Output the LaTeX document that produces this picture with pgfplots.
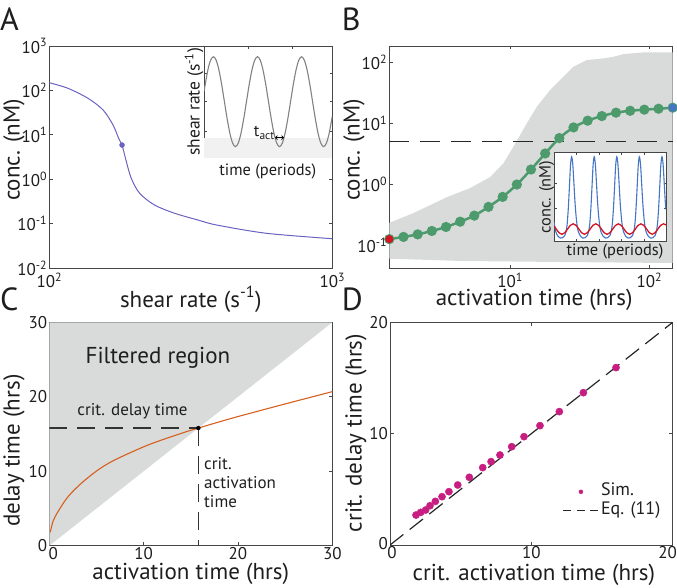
\documentclass[border=0pt]{standalone}
\usepackage{fontspec}
\setmainfont{PT Sans}
\usepackage{pgfplots}
\pgfplotsset{compat=1.18}
\usetikzlibrary{arrows.meta}
\definecolor{axcol}{RGB}{70,70,70}
\definecolor{txt}{RGB}{30,30,30}
\definecolor{purp}{RGB}{106,98,192}
\definecolor{grn}{RGB}{77,155,108}
\definecolor{redp}{RGB}{210,20,35}
\definecolor{bluep}{RGB}{68,118,196}
\definecolor{bandgray}{RGB}{217,218,218}
\definecolor{orng}{RGB}{214,95,30}
\definecolor{mag}{RGB}{200,30,130}
\definecolor{sinegray}{RGB}{130,130,130}
\definecolor{lightg}{RGB}{241,241,241}
\pgfplotsset{
  mat/.style={
    scale only axis, anchor=north west,
    axis line style={draw=axcol, line width=0.9pt},
    tick style={draw=axcol, line width=0.8pt},
    major tick length=3.5pt, minor tick length=0pt,
    tick align=inside,
    tick label style={font=\fontsize{17}{17}\selectfont, text=txt, inner sep=2pt},
    xticklabel style={inner ysep=0.5pt, yshift=-1pt},
    label style={font=\fontsize{23}{23}\selectfont, text=txt, inner sep=0pt},
    /pgf/number format/assume math mode=true,
  },
  inset/.style={
    mat, major tick length=2.5pt,
    axis background/.style={fill=white},
    xticklabels={}, yticklabels={},
    label style={font=\fontsize{16.4}{16.4}\selectfont, text=txt, inner sep=0pt},
  },
}
\begin{document}
\begin{tikzpicture}
\path[use as bounding box] (0,0) rectangle (677pt,-587pt);
% panel letters
\node[font=\fontsize{32}{32}\selectfont, anchor=base west, inner sep=0pt, text=txt] at (0pt,-30pt) {A};
\node[font=\fontsize{32}{32}\selectfont, anchor=base west, inner sep=0pt, text=txt] at (341.7pt,-30pt) {B};
\node[font=\fontsize{32}{32}\selectfont, anchor=base west, inner sep=0pt, text=txt] at (0pt,-310pt) {C};
\node[font=\fontsize{32}{32}\selectfont, anchor=base west, inner sep=0pt, text=txt] at (341.7pt,-310pt) {D};

% ---------------- Panel A ----------------
\begin{axis}[mat, at={(49.3pt,-46pt)}, width=283pt, height=222pt,
  xmode=log, ymode=log, xmin=100, xmax=1000, ymin=1e-2, ymax=1e3,
  xtick={100,1000}, xticklabels={10\textsuperscript{2},10\textsuperscript{3}},
  xticklabel style={inner ysep=0.5pt, yshift=-3.5pt},
  ytick={1e-2,1e-1,1,10,100,1000},
  yticklabels={10\textsuperscript{-2},10\textsuperscript{-1},10\textsuperscript{0},10\textsuperscript{1},10\textsuperscript{2},10\textsuperscript{3}},
  xlabel={shear rate (s\textsuperscript{-1})}, ylabel={conc. (nM)},
  xlabel style={at={(axis description cs:0.5,-0.141)}, anchor=center},
  ylabel style={at={(axis description cs:-0.125,0.532)}, anchor=center},
]
\addplot[color=purp, line width=1pt, smooth] coordinates {
(100,149) (116.4,111.5) (137,66.4) (154.9,36.2) (168,16.6) (175.8,8.34) (180.7,5.89) (187.2,2.48) (194.8,1.05) (208.6,0.481) (235.5,0.262) (277.2,0.171) (335,0.1205) (390.6,0.0929) (586.9,0.0604) (1000,0.0457)};
\addplot[only marks, mark=*, mark size=2.5pt, color=purp] coordinates {(180.7,5.89)};
\end{axis}
% inset A
\begin{axis}[inset, at={(204pt,-46pt)}, width=128.3pt, height=111.7pt,
  xmin=0, xmax=2.91, ymin=0, ymax=1, xtick={1,2}, ytick={0.233,0.501,0.756},
  xlabel={time (periods)}, ylabel={shear rate (s\textsuperscript{-1})},
  xlabel style={at={(axis description cs:0.497,-0.119)}, anchor=center},
  ylabel style={at={(axis description cs:-0.078,0.5)}, anchor=center, font=\fontsize{17.5}{17.5}\selectfont},
]
\addplot[fill=lightg, draw=none] coordinates {(0,0) (0,0.18) (2.91,0.18) (2.91,0)} -- cycle;
\addplot[color=sinegray, line width=1.1pt, smooth] coordinates {
(0,0.594) (0.088,0.7861) (0.1505,0.8734) (0.213,0.904) (0.2755,0.8734) (0.338,0.7861) (0.4005,0.6555) (0.463,0.5015) (0.5255,0.3475) (0.588,0.2169) (0.6505,0.1296) (0.713,0.099) (0.7755,0.1296) (0.838,0.2169) (0.9005,0.3475) (0.963,0.5015) (1.0255,0.6555) (1.088,0.7861) (1.1505,0.8734) (1.213,0.904) (1.2755,0.8734) (1.338,0.7861) (1.4005,0.6555) (1.463,0.5015) (1.5255,0.3475) (1.588,0.2169) (1.6505,0.1296) (1.713,0.099) (1.7755,0.1296) (1.838,0.2169) (1.9005,0.3475) (1.963,0.5015) (2.0255,0.6555) (2.088,0.7861) (2.1505,0.8734) (2.213,0.904) (2.2755,0.8734) (2.338,0.7861) (2.4005,0.6555) (2.463,0.5015) (2.5255,0.3475) (2.588,0.2169) (2.6505,0.1296) (2.713,0.099) (2.7755,0.1296) (2.838,0.2169) (2.91,0.370)};
\draw[{Straight Barb[length=2pt]}-{Straight Barb[length=2pt]}, line width=0.7pt, black] (axis cs:1.61,0.18) -- (axis cs:1.816,0.18);
\node[anchor=south east, inner sep=0pt, font=\fontsize{16.4}{16.4}\selectfont, text=txt] at (axis cs:1.61,0.16) {t\textsubscript{act}};
\end{axis}

% ---------------- Panel B ----------------
\begin{axis}[mat, at={(389.3pt,-46pt)}, width=283.4pt, height=222pt, clip=false,
  xmode=log, ymode=log, xmin=1.361, xmax=147, ymin=0.0431, ymax=184.8,
  xtick={10,100}, xticklabels={10\textsuperscript{1},10\textsuperscript{2}},
  xticklabel style={inner ysep=0.5pt, yshift=-3pt},
  ytick={0.1,1,10,100},
  yticklabels={10\textsuperscript{-1},10\textsuperscript{0},10\textsuperscript{1},10\textsuperscript{2}},
  xlabel={activation time (hrs)}, ylabel={conc. (nM)},
  xlabel style={at={(axis description cs:0.511,-0.145)}, anchor=center},
  ylabel style={at={(axis description cs:-0.125,0.532)}, anchor=center},
]
\addplot[fill=bandgray, draw=none] coordinates {
(1.361,0.236) (2.02,0.34) (3.53,0.622) (5.16,0.873) (7.18,1.32) (8.95,2.21) (10.56,4.14) (13.18,10) (15.56,18.7) (19.38,35.1) (24.15,57.9) (28.46,84.4) (35.54,108.6) (46.8,115.9) (55.2,123.1) (65.1,136.2) (90.6,145.2) (147,145.2)
(147,0.052) (24,0.054) (4.62,0.0561) (1.361,0.0612)} -- cycle;
\addplot[color=black!85, line width=1.4pt, dash pattern=on 20pt off 11pt] coordinates {(1.361,5.07) (147,5.07)};
\addplot[color=grn, line width=2.5pt, mark=*, mark size=3.8pt, smooth] coordinates {
(1.361,0.128) (1.721,0.139) (2.175,0.153) (2.748,0.174) (3.472,0.202) (4.388,0.247) (5.545,0.310) (7.008,0.431) (8.856,0.628) (11.19,1.0) (14.14,1.76) (17.87,3.22) (22.59,5.75) (28.55,8.6) (36.07,11.1) (45.59,13.2) (57.61,15.0) (72.81,16.1) (92.0,16.8) (116.3,17.4) (147,18.1)};
\addplot[only marks, mark=*, mark size=3.8pt, color=redp] coordinates {(1.361,0.128)};
\addplot[only marks, mark=*, mark size=3.8pt, color=bluep] coordinates {(147,18.1)};
\end{axis}
% inset B
\begin{axis}[inset, at={(554pt,-152.3pt)}, width=112pt, height=89.4pt,
  xmin=0, xmax=4.96, ymin=0, ymax=1, xtick={1,2,3,4}, ytick={0.37,0.65},
  xlabel={time (periods)}, ylabel={conc. (nM)},
  xlabel style={at={(axis description cs:0.545,-0.104)}, anchor=center},
  ylabel style={at={(axis description cs:-0.067,0.5)}, anchor=center},
]
\addplot[color=bluep, line width=1.1pt, smooth, tension=0.5] coordinates {
(0,0.22) (0.08,0.11) (0.18,0.06) (0.28,0.04) (0.38,0.045) (0.48,0.07) (0.53,0.11) (0.58,0.19) (0.63,0.36) (0.68,0.60) (0.73,0.85) (0.78,0.95) (0.83,0.87) (0.88,0.66) (0.93,0.44) (0.98,0.28) (1.03,0.17) (1.08,0.11) (1.18,0.06) (1.28,0.04)
(1.38,0.045) (1.48,0.07) (1.53,0.11) (1.58,0.19) (1.63,0.36) (1.68,0.60) (1.73,0.85) (1.78,0.95) (1.83,0.87) (1.88,0.66) (1.93,0.44) (1.98,0.28) (2.03,0.17) (2.08,0.11) (2.18,0.06) (2.28,0.04)
(2.38,0.045) (2.48,0.07) (2.53,0.11) (2.58,0.19) (2.63,0.36) (2.68,0.60) (2.73,0.85) (2.78,0.95) (2.83,0.87) (2.88,0.66) (2.93,0.44) (2.98,0.28) (3.03,0.17) (3.08,0.11) (3.18,0.06) (3.28,0.04)
(3.38,0.045) (3.48,0.07) (3.53,0.11) (3.58,0.19) (3.63,0.36) (3.68,0.60) (3.73,0.85) (3.78,0.95) (3.83,0.87) (3.88,0.66) (3.93,0.44) (3.98,0.28) (4.03,0.17) (4.08,0.11) (4.18,0.06) (4.28,0.04)
(4.38,0.045) (4.48,0.07) (4.53,0.11) (4.58,0.19) (4.63,0.36) (4.68,0.60) (4.73,0.85) (4.78,0.95) (4.83,0.87) (4.88,0.66) (4.93,0.44) (4.96,0.36)};
\addplot[color=redp, line width=1.3pt, smooth] coordinates {
(0,0.176) (0.1,0.1415) (0.225,0.1001) (0.35,0.083) (0.475,0.1001) (0.6,0.1415) (0.725,0.1829) (0.85,0.2) (0.975,0.1829)
(1.1,0.1415) (1.225,0.1001) (1.35,0.083) (1.475,0.1001) (1.6,0.1415) (1.725,0.1829) (1.85,0.2) (1.975,0.1829)
(2.1,0.1415) (2.225,0.1001) (2.35,0.083) (2.475,0.1001) (2.6,0.1415) (2.725,0.1829) (2.85,0.2) (2.975,0.1829)
(3.1,0.1415) (3.225,0.1001) (3.35,0.083) (3.475,0.1001) (3.6,0.1415) (3.725,0.1829) (3.85,0.2) (3.975,0.1829)
(4.1,0.1415) (4.225,0.1001) (4.35,0.083) (4.475,0.1001) (4.6,0.1415) (4.725,0.1829) (4.85,0.2) (4.96,0.1865)};
\end{axis}

% ---------------- Panel C ----------------
\begin{axis}[mat, at={(49.3pt,-322.3pt)}, width=283pt, height=223.4pt,
  xmin=0, xmax=30, ymin=0, ymax=30, xtick={0,10,20,30}, ytick={0,10,20,30},
  xticklabels={\kern8pt 0,10,20,30},
  xlabel={activation time (hrs)}, ylabel={delay time (hrs)},
  xlabel style={at={(axis description cs:0.5,-0.124)}, anchor=center},
  ylabel style={at={(axis description cs:-0.125,0.425)}, anchor=center},
]
\addplot[fill=bandgray, draw=none] coordinates {(0,0) (0,30) (30,30)} -- cycle;
\addplot[color=orng, line width=1.1pt, smooth] coordinates {
(0.1,1.8) (0.4,3.3) (0.92,4.57) (1.98,6.58) (3.39,8.38) (5.16,10.17) (6.93,11.51) (10.46,13.52) (13.99,15.09) (15.8,15.8) (19.5,17.17) (24.8,18.97) (30,20.69)};
\addplot[color=black!80, line width=1.2pt, dash pattern=on 18pt off 10pt] coordinates {(0,15.8) (15.8,15.8)};
\addplot[color=black!80, line width=1.2pt, dash pattern=on 18pt off 10pt] coordinates {(15.8,15.8) (15.8,0)};
\addplot[only marks, mark=*, mark size=2pt, color=black] coordinates {(15.8,15.8)};
\node[font=\fontsize{23}{23}\selectfont, text=txt] at (axis cs:11.52,25.2) {Filtered region};
\node[font=\fontsize{17}{17}\selectfont, text=txt] at (axis cs:8.82,18.09) {crit. delay time};
\node[font=\fontsize{17}{19}\selectfont, text=txt, align=left, anchor=west, inner sep=0pt] at (axis cs:16.4,8.51) {crit.\\activation\\time};
\end{axis}

% ---------------- Panel D ----------------
\begin{axis}[mat, at={(390pt,-322.3pt)}, width=282.7pt, height=222.7pt,
  xmin=0, xmax=20, ymin=0, ymax=20, xtick={0,10,20}, ytick={0,10,20},
  xticklabels={\kern4pt 0,10,20\kern10pt},
  yticklabels={\raisebox{3pt}{0},10,20},
  xlabel={crit. activation time (hrs)}, ylabel={crit. delay time (hrs)},
  xlabel style={at={(axis description cs:0.509,-0.135)}, anchor=center},
  ylabel style={at={(axis description cs:-0.12,0.503)}, anchor=center},
  legend cell align=left,
  legend image code/.code={\draw[mark repeat=2,mark phase=2,#1] plot coordinates {(0pt,0pt) (17.5pt,0pt) (35pt,0pt)};},
  legend style={at={(axis description cs:0.600,0.289)}, anchor=north west, draw=none, fill=none,
    font=\fontsize{18}{18}\selectfont, text=txt, row sep=0.8pt,
    nodes={inner sep=2pt, text height=11pt, text depth=3pt}},
]
\addplot[only marks, mark=*, mark size=3.6pt, color=mag, legend image post style={mark size=2pt}] coordinates {
(1.84,2.69) (2.17,2.93) (2.52,3.14) (2.83,3.53) (3.21,3.92) (3.68,4.34) (4.17,4.79) (4.79,5.39) (5.61,6.08) (6.56,6.95) (7.15,7.49) (7.78,8.08) (8.61,8.83) (9.48,9.73) (10.61,10.72) (11.98,11.98) (13.68,13.68) (15.99,15.93)};
\addlegendentry{Sim.}
\addplot[color=black!85, line width=1.2pt, dash pattern=on 17pt off 8pt, legend image post style={dash pattern=on 8pt off 5.5pt}] coordinates {(0,0) (20,20)};
\addlegendentry{Eq. (11)}
\end{axis}
\end{tikzpicture}
\end{document}
